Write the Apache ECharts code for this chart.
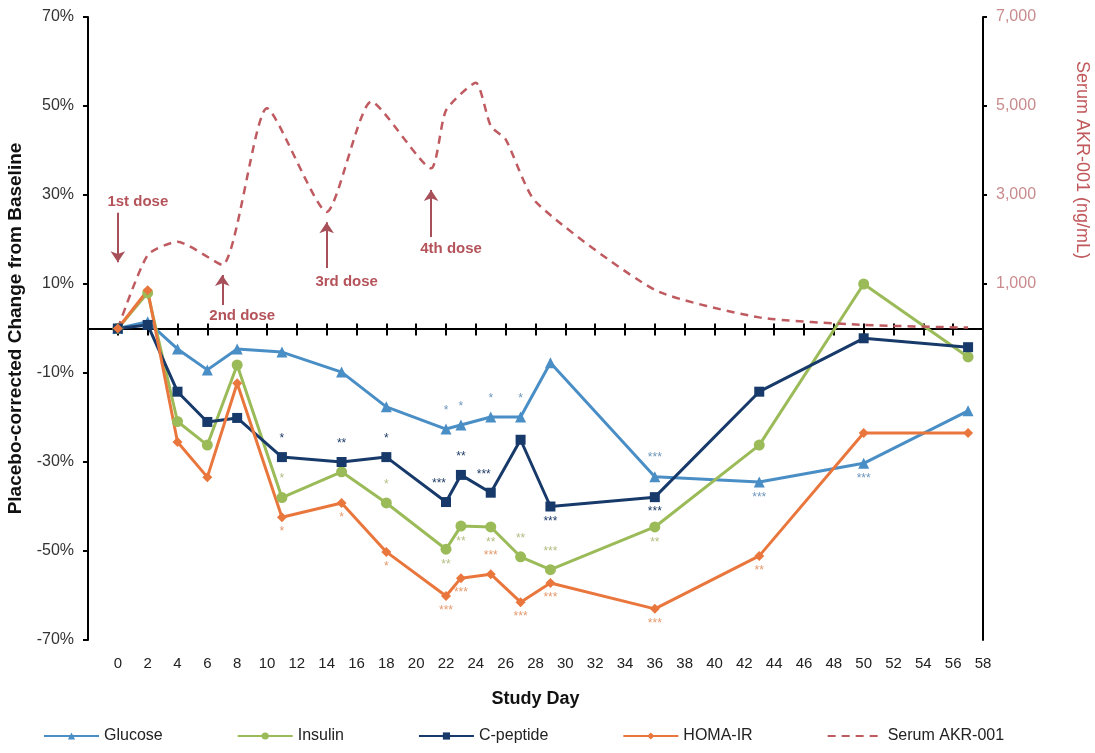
<!DOCTYPE html>
<html>
<head>
<meta charset="utf-8">
<script src="https://cdn.jsdelivr.net/npm/echarts@6/dist/echarts.min.js"></script>
<style>
  html, body { margin: 0; padding: 0; background: #ffffff; }
  #chart { width: 1095px; height: 753px; }
</style>
</head>
<body>
<div id="chart"></div>
<script>
// ---- Data -------------------------------------------------------------
const dayTicks = [0, 2, 4, 6, 8, 10, 12, 14, 16, 18, 20, 22, 24, 26, 28, 30, 32, 34, 36, 38, 40, 42, 44, 46, 48, 50, 52, 54, 56, 58];
const pctTicks = [-70, -50, -30, -10, 10, 30, 50, 70];
const serumTicks = [1000, 3000, 5000, 7000];

const seriesNames = ['Glucose', 'Insulin', 'C-peptide', 'HOMA-IR', 'Serum AKR-001'];

// placebo-corrected % change from baseline
const studyDays = [0, 2, 4, 6, 8, 11, 15, 18, 22, 23, 25, 27, 29, 36, 43, 50, 57];
const glucose  = [0, 1.5, -4.6, -9.3, -4.6, -5.3, -9.8, -17.6, -22.6, -21.7, -19.9, -19.9, -7.7, -33.3, -34.5, -30.3, -18.5];
const insulin  = [0, 8.0, -20.9, -26.2, -8.2, -38.0, -32.2, -39.2, -49.6, -44.4, -44.6, -51.3, -54.2, -44.6, -26.2, 10.0, -6.4];
const cPeptide = [0, 0.8, -14.2, -21.0, -20.1, -28.9, -30.0, -28.9, -39.0, -32.9, -36.9, -25.0, -40.0, -37.9, -14.2, -2.2, -4.2];
const homaIr   = [0, 8.6, -25.5, -33.4, -12.3, -42.4, -39.2, -50.2, -60.1, -56.1, -55.2, -61.5, -57.2, -63.0, -51.1, -23.5, -23.5];

// serum drug concentration (ng/mL)
const serumDays   = [0, 2, 4, 7, 10, 14, 17, 21, 22, 24, 25, 26, 28, 36, 43, 50, 57];
const serumLevels = [0, 1650, 1950, 1430, 4950, 2620, 5100, 3600, 4900, 5520, 4550, 4250, 2850, 870, 250, 80, 20];

// significance markers: [day, marker, placement]
const glucoseStars  = [[22, '*', 'top'], [23, '*', 'top'], [25, '*', 'top'], [27, '*', 'top'], [36, '***', 'top'], [43, '***', 'bottom'], [50, '***', 'bottom']];
const insulinStars  = [[11, '*', 'top'], [18, '*', 'top'], [22, '**', 'bottom'], [23, '**', 'bottom'], [25, '**', 'bottom'], [27, '**', 'top'], [29, '***', 'top'], [36, '**', 'bottom']];
const cPeptideStars = [[11, '*', 'top'], [15, '**', 'top'], [18, '*', 'top'], [22, '***', 'topLeft'], [23, '**', 'top'], [25, '***', 'topLeft'], [29, '***', 'bottom'], [36, '***', 'bottom']];
const homaIrStars   = [[11, '*', 'bottom'], [15, '*', 'bottom'], [18, '*', 'bottom'], [22, '***', 'bottom'], [23, '***', 'bottom'], [25, '***', 'top'], [27, '***', 'bottom'], [29, '***', 'bottom'], [36, '***', 'bottom'], [43, '**', 'bottom']];

// dosing schedule
const doseDays = [0, 7, 14, 21];
const doseLabels = ['1st dose', '2nd dose', '3rd dose', '4th dose'];

// ---- Styling / layout ---------------------------------------------------
const COLORS = {
  glucose: '#4a8ec6',
  insulin: '#9bbb59',
  cPeptide: '#173a6a',
  homaIr: '#e9773d',
  serum: '#bf5b60'
};
const STAR_COLORS = {
  glucose: '#6f97bb',
  insulin: '#b3bd83',
  cPeptide: '#1f3b66',
  homaIr: '#e39a6e'
};
// arrow extents (ng/mL on the right axis) and label anchor for each dose note
const doseArrowLayout = [
  { from: 2600, to: 1490, text: 2840 },
  { from: 530,  to: 1200, text: 280 },
  { from: 1360, to: 2390, text: 1045 },
  { from: 2056, to: 3112, text: 1786 }
];
const SANS = "'Liberation Sans', Arial, Helvetica, sans-serif";

function pointsWithStars(values, stars, starColor) {
  const lookup = {};
  stars.forEach(s => { lookup[s[0]] = s; });
  return studyDays.map((d, i) => {
    const item = { value: [d, values[i]] };
    const s = lookup[d];
    if (s) {
      const pos = s[2] === 'bottom' ? 'bottom' : 'top';
      item.label = {
        show: true,
        formatter: s[1],
        position: pos,
        distance: pos === 'top' ? 7 : 4,
        offset: s[2] === 'topLeft' ? [-7, 0] : [0, 0],
        color: starColor,
        fontSize: 12,
        fontFamily: SANS
      };
    }
    return item;
  });
}

function lineSeries(name, values, stars, color, starColor, symbol, size) {
  return {
    name: name,
    type: 'line',
    xAxisIndex: 0,
    yAxisIndex: 0,
    data: pointsWithStars(values, stars, starColor),
    symbol: symbol,
    symbolSize: size,
    showSymbol: true,
    lineStyle: { color: color, width: 3 },
    itemStyle: { color: color },
    label: { show: false },
    emphasis: { disabled: true }
  };
}

const chart = echarts.init(document.getElementById('chart'), null, { renderer: 'canvas' });

const baseX = { type: 'value', min: -2, max: 58, splitLine: { show: false } };

const option = {
  animation: false,
  backgroundColor: '#ffffff',
  textStyle: { fontFamily: SANS },
  grid: { left: 88, right: 112, top: 17, bottom: 113, containLabel: false, outerBoundsMode: 'none' },
  legend: {
    data: seriesNames.map(n => n === 'Serum AKR-001'
      ? { name: n, itemStyle: { color: 'rgba(0,0,0,0)', borderWidth: 0 } }
      : { name: n }),
    bottom: 4,
    left: 38,
    itemWidth: 55,
    itemHeight: 9,
    itemGap: 74,
    textStyle: { fontSize: 16, color: '#222', fontFamily: SANS }
  },
  xAxis: [
    Object.assign({}, baseX, {
      position: 'bottom',
      axisLine: { show: false, onZero: false },
      axisTick: { show: false },
      axisLabel: { customValues: dayTicks, fontSize: 15, color: '#222', margin: 16, fontFamily: SANS },
      name: 'Study Day',
      nameLocation: 'middle',
      nameGap: 50,
      nameTextStyle: { fontSize: 18, fontWeight: 'bold', color: '#111', fontFamily: SANS }
    }),
    Object.assign({}, baseX, {
      position: 'top',
      axisLine: { show: true, onZero: true, lineStyle: { color: '#000', width: 2 } },
      axisTick: { show: true, inside: true, length: 7, customValues: dayTicks, lineStyle: { color: '#000', width: 2 } },
      axisLabel: { show: false }
    }),
    Object.assign({}, baseX, {
      position: 'bottom',
      axisLine: { show: true, onZero: true, lineStyle: { color: '#000', width: 2 } },
      axisTick: { show: true, inside: true, length: 5, customValues: dayTicks, lineStyle: { color: '#000', width: 2 } },
      axisLabel: { show: false }
    })
  ],
  yAxis: [
    {
      type: 'value',
      position: 'left',
      min: -70,
      max: 70,
      interval: 10,
      splitLine: { show: false },
      axisLine: { show: true, onZero: false, lineStyle: { color: '#000', width: 2 } },
      axisTick: { show: true, length: 5, customValues: pctTicks, lineStyle: { color: '#000', width: 2 } },
      axisLabel: { customValues: pctTicks, formatter: v => v + '%', fontSize: 16, color: '#333', margin: 14, fontFamily: SANS },
      name: 'Placebo-corrected Change from Baseline',
      nameLocation: 'middle',
      nameGap: 62,
      nameTextStyle: { fontSize: 19, fontWeight: 'bold', color: '#111', fontFamily: SANS }
    },
    {
      type: 'value',
      position: 'right',
      min: -7000,
      max: 7000,
      interval: 1000,
      splitLine: { show: false },
      axisLine: { show: true, onZero: false, lineStyle: { color: '#000', width: 2 } },
      axisTick: { show: true, length: 4, customValues: serumTicks, lineStyle: { color: '#000', width: 2 } },
      axisLabel: {
        customValues: serumTicks,
        formatter: v => v.toLocaleString('en-US'),
        fontSize: 16,
        color: '#c98b8d',
        margin: 13,
        fontFamily: SANS
      }
    }
  ],
  graphic: [
    {
      type: 'text',
      x: 1082,
      y: 160,
      rotation: -Math.PI / 2,
      style: {
        text: 'Serum AKR-001 (ng/mL)',
        fill: '#c0585c',
        font: "18px 'Liberation Sans', Arial, sans-serif",
        textAlign: 'center',
        textVerticalAlign: 'middle'
      }
    }
  ],
  series: [
    lineSeries('Glucose', glucose, glucoseStars, COLORS.glucose, STAR_COLORS.glucose, 'triangle', 11),
    lineSeries('Insulin', insulin, insulinStars, COLORS.insulin, STAR_COLORS.insulin, 'circle', 11),
    lineSeries('C-peptide', cPeptide, cPeptideStars, COLORS.cPeptide, STAR_COLORS.cPeptide, 'rect', 10),
    lineSeries('HOMA-IR', homaIr, homaIrStars, COLORS.homaIr, STAR_COLORS.homaIr, 'diamond', 10),
    {
      name: 'Serum AKR-001',
      type: 'line',
      xAxisIndex: 0,
      yAxisIndex: 1,
      data: serumDays.map((d, i) => [d, serumLevels[i]]),
      smooth: 0.2,
      symbol: 'none',
      showSymbol: false,
      lineStyle: { color: COLORS.serum, width: 2.5, type: [8, 6] },
      itemStyle: { color: COLORS.serum },
      emphasis: { disabled: true },
      markLine: {
        silent: true,
        animation: false,
        symbol: ['none', 'arrow'],
        symbolSize: 11,
        itemStyle: { color: '#a8505a' },
        lineStyle: { color: '#a8505a', width: 2, type: 'solid' },
        label: { show: false },
        data: doseDays.map((d, i) => [
          { coord: [d, doseArrowLayout[i].from], symbol: 'none' },
          { coord: [d, doseArrowLayout[i].to], symbol: 'arrow', symbolSize: 11 }
        ])
      },
      markPoint: {
        silent: true,
        animation: false,
        symbol: 'rect',
        symbolSize: 2,
        itemStyle: { color: 'rgba(0,0,0,0)' },
        label: {
          show: true,
          position: 'inside',
          offset: [20, 0],
          formatter: p => p.name,
          color: '#b4535a',
          fontSize: 15,
          fontWeight: 'bold',
          fontFamily: SANS
        },
        data: doseDays.map((d, i) => ({ name: doseLabels[i], coord: [d, doseArrowLayout[i].text] }))
      }
    }
  ]
};

chart.setOption(option);
</script>
</body>
</html>
